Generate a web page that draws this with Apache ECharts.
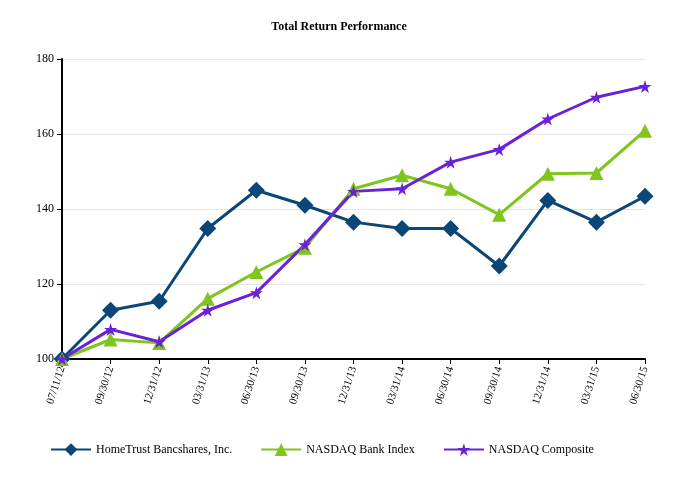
<!DOCTYPE html>
<html>
<head>
<meta charset="utf-8">
<script src="https://cdn.jsdelivr.net/npm/echarts@6/dist/echarts.min.js"></script>
<style>html,body{margin:0;padding:0;background:#fff}#c{width:678px;height:489px}</style>
</head>
<body>
<div id="c"></div>
<script>
const categories = ["07/11/12", "09/30/12", "12/31/12", "03/31/13", "06/30/13", "09/30/13", "12/31/13", "03/31/14", "06/30/14", "09/30/14", "12/31/14", "03/31/15", "06/30/15"];
const homeTrust = [100, 113.0, 115.4, 134.8, 145.0, 141.0, 136.5, 134.8, 134.8, 124.8, 142.3, 136.5, 143.4];
const bankIndex = [100, 105.2, 104.3, 116.1, 123.2, 129.7, 145.4, 149.0, 145.4, 138.5, 149.4, 149.6, 160.9];
const composite = [100, 107.9, 104.6, 113.0, 117.7, 130.5, 144.7, 145.4, 152.5, 155.9, 164.0, 169.8, 172.7];
const yTicks = [100, 120, 140, 160, 180];

const font = "Liberation Serif";
const chart = echarts.init(document.getElementById("c"));
const mkSeries = (name, data, color, symbol, size) => ({
    name, data, type: "line", symbol, symbolSize: size,
    lineStyle: { color, width: 3 }, itemStyle: { color }
});
chart.setOption({
    animation: false,
    textStyle: { fontFamily: font },
    title: {
        text: "Total Return Performance", left: "center", top: 16,
        textStyle: { fontFamily: font, fontSize: 12, fontWeight: "bold", color: "#000" }
    },
    legend: {
        bottom: 28, left: 45, itemGap: 28, itemWidth: 40, itemHeight: 16,
        textStyle: { fontFamily: font, fontSize: 12, color: "#000" },
        data: ["HomeTrust Bancshares, Inc.", "NASDAQ Bank Index", "NASDAQ Composite"]
    },
    grid: { left: 62, right: 33, top: 59, bottom: 130 },
    xAxis: {
        type: "category", data: categories, boundaryGap: false,
        axisLine: { lineStyle: { color: "#000", width: 2 } },
        axisTick: { alignWithLabel: true, lineStyle: { color: "#000" } },
        axisLabel: { rotate: 72, fontFamily: font, fontSize: 11, color: "#000", interval: 0, margin: 8 }
    },
    yAxis: {
        type: "value", min: yTicks[0], max: yTicks[yTicks.length - 1], interval: 20,
        axisLine: { show: true, lineStyle: { color: "#000", width: 2 } },
        axisTick: { show: true, lineStyle: { color: "#000" } },
        axisLabel: { fontFamily: font, fontSize: 12, color: "#000" },
        splitLine: { lineStyle: { color: "#e4e4e4" } }
    },
    series: [
        mkSeries("HomeTrust Bancshares, Inc.", homeTrust, "#0a4677", "diamond", 17),
        mkSeries("NASDAQ Bank Index", bankIndex, "#7ec51c", "triangle", 14),
        mkSeries("NASDAQ Composite", composite, "#6b22d6", "path://M50,0 L61,35 L98,35 L68,57 L79,91 L50,70 L21,91 L32,57 L2,35 L39,35 Z", 13)
    ]
});
</script>
</body>
</html>
